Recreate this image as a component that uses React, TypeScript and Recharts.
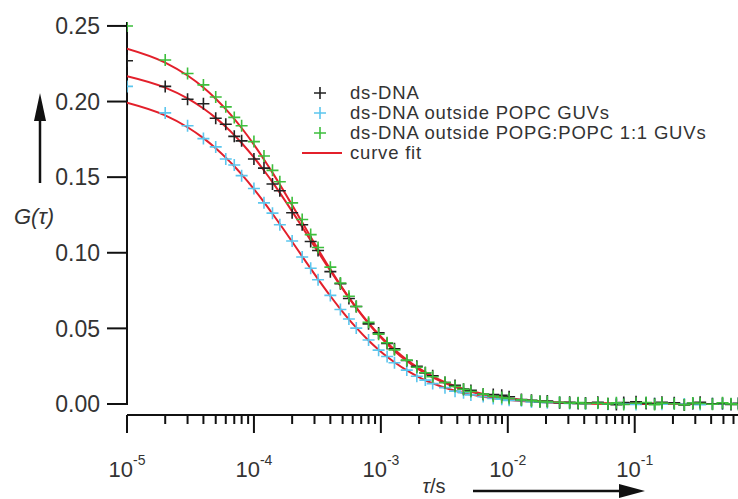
import { ComposedChart, Line, Scatter, XAxis, YAxis, ReferenceLine } from "recharts";

const FONT = '"Liberation Sans", Arial, Helvetica, sans-serif';
const TEXT = "#333";
const AXIS = "#111";
const RED = "#e3202b";
const BLACK = "#222";
const CYAN = "#5cc6ee";
const GREEN = "#3dbf3d";

// lag time, seconds
const tau = [
  1e-5, 2e-5, 3e-5, 4e-5, 5e-5, 6e-5, 7e-5, 8e-5,
  1e-4, 1.2e-4, 1.4e-4, 1.6e-4, 2e-4, 2.4e-4, 2.8e-4, 3.2e-4,
  4e-4, 4.8e-4, 5.6e-4, 6.4e-4, 8e-4, 9.6e-4, 1.12e-3, 1.28e-3,
  1.6e-3, 1.92e-3, 2.24e-3, 2.56e-3, 3.2e-3, 3.84e-3, 4.48e-3, 5.12e-3,
  6.4e-3, 7.68e-3, 8.96e-3, 1.024e-2, 1.28e-2, 1.536e-2, 1.792e-2, 2.048e-2,
  2.56e-2, 3.072e-2, 3.584e-2, 4.096e-2, 5.12e-2, 6.144e-2, 7.168e-2, 8.192e-2,
  0.1024, 0.1229, 0.1434, 0.1638, 0.2048, 0.2458, 0.2867, 0.3277,
  0.4096, 0.4915, 0.5734, 0.6554,
];

// measured G(tau)
const dsDna = [
  0.227, 0.21, 0.2015, 0.1985, 0.189, 0.185, 0.177, 0.174,
  0.162, 0.156, 0.1455, 0.141, 0.1265, 0.1185, 0.1075, 0.1015,
  0.0875, 0.0795, 0.0698, 0.0645, 0.053, 0.047, 0.04, 0.0365,
  0.0288, 0.025, 0.0206, 0.0187, 0.0142, 0.0123, 0.0098, 0.009,
  0.0064, 0.0062, 0.0058, 0.0048, 0.003, 0.0025, 0.0016, 0.002,
  0.0008, 0.0012, 0.0003, 0.0006, 0.0011, 0.0002, -0.0004, 0.001,
  0.0014, 0.0003, 0.0002, 0.0012, 0.0008, -0.0006, 0.0004, 0.0011,
  0.0001, 0.0003, -0.0003, 0.0005,
];
const dsDnaPopc = [
  0.21, 0.1925, 0.184, 0.1755, 0.17, 0.162, 0.158, 0.151,
  0.1425, 0.133, 0.1262, 0.1185, 0.1078, 0.0972, 0.0898, 0.0822,
  0.0718, 0.0625, 0.0562, 0.0502, 0.0423, 0.0356, 0.0314, 0.0273,
  0.0224, 0.0183, 0.0158, 0.0135, 0.0108, 0.0085, 0.0074, 0.006,
  0.0049, 0.0036, 0.0032, 0.0024, 0.0021, 0.0013, 0.0014, 0.0008,
  0.001, 0.0004, 0.0007, 0.0002, 0.0005, -0.0001, 0.0004, 0.0002,
  -0.0003, 0.0006, 0.0001, -0.0002, 0.0004, 0.0, 0.0003, -0.0004,
  0.0002, 0.0001, -0.0002, 0.0003,
];
const dsDnaPopg = [
  0.25, 0.2275, 0.2185, 0.211, 0.203, 0.1965, 0.1895, 0.184,
  0.1735, 0.164, 0.1545, 0.147, 0.133, 0.122, 0.112, 0.1035,
  0.0905, 0.08, 0.0712, 0.0645, 0.054, 0.0462, 0.0405, 0.0358,
  0.029, 0.0243, 0.0207, 0.018, 0.0142, 0.0116, 0.0097, 0.0083,
  0.0065, 0.0052, 0.0043, 0.0036, 0.0027, 0.0022, 0.0017, 0.0014,
  0.0012, 0.0006, 0.0009, 0.0004, 0.0006, 0.0001, 0.0008, -0.0003,
  0.0005, 0.001, -0.0004, 0.0006, 0.0002, -0.0005, 0.0007, 0.0003,
  -0.0002, 0.0008, 0.0001, -0.0003,
];

// fitted curves
const fitDna = [
  0.2168, 0.2092, 0.2021, 0.1954, 0.1892, 0.1833, 0.1778, 0.1726,
  0.163, 0.1544, 0.1467, 0.1396, 0.1274, 0.1171, 0.1082, 0.1006,
  0.0881, 0.0783, 0.0703, 0.0638, 0.0537, 0.0462, 0.0405, 0.036,
  0.0292, 0.0245, 0.021, 0.0183, 0.0145, 0.0119, 0.01, 0.0086,
  0.0066, 0.0053, 0.0044, 0.0037, 0.0028, 0.0022, 0.0018, 0.0015,
  0.0011, 0.0008, 0.0006, 0.0005, 0.0004, 0.0003, 0.0002, 0.0002,
  0.0001, 0.0001, 0.0001, 0.0001, 0, 0, 0, 0,
  0, 0, 0, 0,
];
const fitPopc = [
  0.1992, 0.1908, 0.183, 0.1758, 0.1691, 0.1629, 0.1572, 0.1518,
  0.1421, 0.1335, 0.1258, 0.119, 0.1073, 0.0976, 0.0895, 0.0826,
  0.0714, 0.0628, 0.056, 0.0505, 0.042, 0.0359, 0.0312, 0.0276,
  0.0222, 0.0185, 0.0157, 0.0137, 0.0107, 0.0087, 0.0073, 0.0062,
  0.0048, 0.0038, 0.0031, 0.0026, 0.002, 0.0015, 0.0013, 0.001,
  0.0008, 0.0006, 0.0005, 0.0004, 0.0003, 0.0002, 0.0002, 0.0002,
  0.0001, 0.0001, 0.0001, 0.0001, 0, 0, 0, 0,
  0, 0, 0, 0,
];
const fitPopg = [
  0.235, 0.2258, 0.2172, 0.2093, 0.2019, 0.195, 0.1886, 0.1825,
  0.1715, 0.1617, 0.153, 0.1451, 0.1315, 0.1201, 0.1105, 0.1023,
  0.089, 0.0786, 0.0703, 0.0635, 0.0531, 0.0455, 0.0397, 0.0351,
  0.0284, 0.0237, 0.0202, 0.0176, 0.0138, 0.0113, 0.0094, 0.0081,
  0.0062, 0.0049, 0.0041, 0.0034, 0.0025, 0.002, 0.0016, 0.0013,
  0.001, 0.0007, 0.0006, 0.0005, 0.0004, 0.0003, 0.0002, 0.0002,
  0.0001, 0.0001, 0.0001, 0.0001, 0, 0, 0, 0,
  0, 0, 0, 0,
];

const xDecades = [1e-5, 1e-4, 1e-3, 1e-2, 1e-1];
const yTicks = [0, 0.05, 0.1, 0.15, 0.2, 0.25];

const legendItems = [
  { label: "ds-DNA", color: BLACK, line: false },
  { label: "ds-DNA outside POPC GUVs", color: CYAN, line: false },
  { label: "ds-DNA outside POPG:POPC 1:1 GUVs", color: GREEN, line: false },
  { label: "curve fit", color: RED, line: true },
];

const rows = tau.map((t, i) => ({
  t,
  dna: dsDna[i],
  popc: dsDnaPopc[i],
  popg: dsDnaPopg[i],
  fDna: fitDna[i],
  fPopc: fitPopc[i],
  fPopg: fitPopg[i],
}));

// log axis ticks: every 1..9 x decade
const xTicks = xDecades
  .flatMap((d) => [1, 2, 3, 4, 5, 6, 7, 8, 9].map((k) => d * k))
  .filter((v) => v <= 0.7);

const plus = (color: string) => (p: any) => (
  <path
    d={`M${p.cx - 6},${p.cy}H${p.cx + 6}M${p.cx},${p.cy - 6}V${p.cy + 6}`}
    stroke={color}
    strokeWidth={1.6}
    fill="none"
  />
);

function XTick({ x, y, payload }: any) {
  const lg = Math.log10(payload.value);
  const major = Math.abs(lg - Math.round(lg)) < 1e-6;
  return (
    <g>
      <line x1={x} x2={x} y1={y} y2={y + (major ? 18 : 9)} stroke={AXIS} strokeWidth={2} />
      {major && (
        <text x={x} y={y + 62} textAnchor="middle" fontSize={22} fill={TEXT} fontFamily={FONT}>
          10
          <tspan dy={-12} fontSize={14}>
            {Math.round(lg)}
          </tspan>
        </text>
      )}
    </g>
  );
}

export default function App() {
  return (
    <div
      style={{
        position: "absolute",
        left: 0,
        top: 0,
        width: 738,
        height: 499,
        overflow: "hidden",
        background: "#fff",
        fontFamily: FONT,
      }}
    >
      <ComposedChart width={742} height={499} data={rows} margin={{ top: 22, right: 0, bottom: 0, left: 0 }}>
        <XAxis
          dataKey="t"
          type="number"
          scale="log"
          domain={[1e-5, 0.7]}
          allowDataOverflow
          ticks={xTicks}
          interval={0}
          tickSize={0}
          tickMargin={0}
          tickLine={false}
          axisLine={{ stroke: AXIS, strokeWidth: 2 }}
          tick={<XTick />}
          height={84}
        />
        <YAxis
          type="number"
          domain={[-0.00728, 0.2526]}
          allowDataOverflow
          ticks={yTicks}
          interval={0}
          width={127}
          tickSize={20}
          tickMargin={7}
          axisLine={false}
          tickLine={{ stroke: AXIS, strokeWidth: 2 }}
          tick={{ fontSize: 23, fill: TEXT, fontFamily: FONT }}
          tickFormatter={(v: number) => v.toFixed(2)}
        />
        <ReferenceLine
          segment={[
            { x: 1e-5, y: -0.0007 },
            { x: 1e-5, y: 0.2526 },
          ]}
          stroke={AXIS}
          strokeWidth={2}
          ifOverflow="visible"
        />
        <Scatter dataKey="popc" shape={plus(CYAN)} isAnimationActive={false} />
        <Scatter dataKey="dna" shape={plus(BLACK)} isAnimationActive={false} />
        <Scatter dataKey="popg" shape={plus(GREEN)} isAnimationActive={false} />
        <Line dataKey="fPopc" type="monotone" stroke={RED} strokeWidth={2} dot={false} isAnimationActive={false} />
        <Line dataKey="fDna" type="monotone" stroke={RED} strokeWidth={2} dot={false} isAnimationActive={false} />
        <Line dataKey="fPopg" type="monotone" stroke={RED} strokeWidth={2} dot={false} isAnimationActive={false} />
      </ComposedChart>

      {/* axis titles and arrows */}
      <svg width={738} height={499} style={{ position: "absolute", left: 0, top: 0, pointerEvents: "none" }}>
        <line x1={40} x2={40} y1={183} y2={112} stroke={AXIS} strokeWidth={2.5} />
        <polygon points="40,93 34,121 46,121" fill={AXIS} />
        <text x={34} y={224} textAnchor="middle" fontSize={22} fontStyle="italic" fill={TEXT} fontFamily={FONT}>
          G(τ)
        </text>
        <text x={434} y={493} textAnchor="middle" fontSize={20} fill={TEXT} fontFamily={FONT}>
          <tspan fontStyle="italic">τ</tspan>/s
        </text>
        <line x1={473} x2={625} y1={491} y2={491} stroke={AXIS} strokeWidth={2.5} />
        <polygon points="645,491 619,484 619,498" fill={AXIS} />
      </svg>

      <div
        style={{
          position: "absolute",
          left: 300,
          top: 83,
          fontSize: 18.5,
          letterSpacing: 0.8,
          color: TEXT,
          lineHeight: "20px",
        }}
      >
        {legendItems.map((it) => (
          <div key={it.label} style={{ display: "flex", alignItems: "center", height: 20, whiteSpace: "nowrap" }}>
            <svg width={50} height={20} style={{ flex: "none" }}>
              {it.line ? (
                <line x1={2} x2={42} y1={10} y2={10} stroke={it.color} strokeWidth={2} />
              ) : (
                <path d="M14,10H26M20,4V16" stroke={it.color} strokeWidth={1.6} fill="none" />
              )}
            </svg>
            <span>{it.label}</span>
          </div>
        ))}
      </div>
    </div>
  );
}
